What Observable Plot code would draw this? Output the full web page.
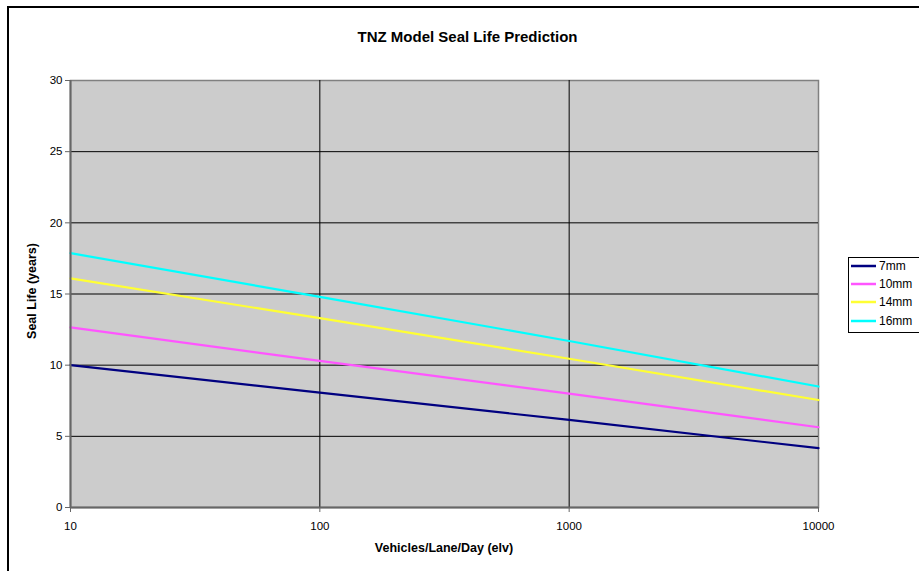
<!DOCTYPE html>
<html>
<head>
<meta charset="utf-8">
<script src="https://cdn.jsdelivr.net/npm/d3@7"></script>
<script src="https://cdn.jsdelivr.net/npm/@observablehq/plot@0.6"></script>
<style>
  html, body { margin: 0; padding: 0; background: #fff; }
  body { font-family: "Liberation Sans", Arial, sans-serif; }
  #wrap { position: relative; width: 919px; height: 571px; overflow: hidden; }
  #border { position: absolute; left: 7px; top: 6px; width: 2000px; height: 2000px;
            border-left: 2px solid #000; border-top: 2px solid #000; }
  #title { position: absolute; left: 0; width: 935px; top: 29px; text-align: center;
           font-weight: bold; font-size: 15px; line-height: 15px; color: #000; }
  #ylabel { position: absolute; left: 32px; top: 291px; transform: translate(-50%, -50%) rotate(-90deg);
            font-weight: bold; font-size: 12.5px; line-height: 13px; white-space: nowrap; }
  #xlabel { position: absolute; left: 444px; top: 548px; transform: translate(-50%, -50%);
            font-weight: bold; font-size: 12.5px; line-height: 13px; white-space: nowrap; }
  #legend { position: absolute; left: 848px; top: 257px; width: 72px; height: 76px;
            border: 1px solid #000; background: #fff; box-sizing: border-box; }
  .item { position: absolute; left: 2px; height: 14px; font-size: 12px; line-height: 14px; display: flex; align-items: center; }
  .item svg { margin-right: 3px; }
  #chart { position: absolute; left: 0; top: 0; }
</style>
</head>
<body>
<div id="wrap">
  <div id="chart"></div>
  <div id="border"></div>
  <div id="title">TNZ Model Seal Life Prediction</div>
  <div id="ylabel">Seal Life (years)</div>
  <div id="xlabel">Vehicles/Lane/Day (elv)</div>
  <div id="legend"></div>
</div>
<script>
// Data
const vehicles = [10, 100, 1000, 10000];
const seriesNames = ["7mm", "10mm", "14mm", "16mm"];
const life7mm  = [10.0, 8.07, 6.15, 4.17];
const life10mm = [12.65, 10.3, 8.0, 5.64];
const life14mm = [16.1, 13.3, 10.45, 7.55];
const life16mm = [17.87, 14.8, 11.7, 8.5];
const seriesColors = ["#000080", "#ff55ff", "#ffff33", "#00ffff"];
const xTicks = [10, 100, 1000, 10000];
const yTicks = [0, 5, 10, 15, 20, 25, 30];
const yGrid = [5, 10, 15, 20, 25];
const xGrid = [100, 1000];

const allSeries = [life7mm, life10mm, life14mm, life16mm];
const rows = [];
seriesNames.forEach((name, i) => {
  vehicles.forEach((v, j) => rows.push({series: name, x: v, y: allSeries[i][j]}));
});

const chart = Plot.plot({
  width: 919,
  height: 571,
  marginLeft: 70,
  marginRight: 101,
  marginTop: 80,
  marginBottom: 64,
  style: { fontFamily: '"Liberation Sans", Arial, sans-serif', fontSize: "11.5px", color: "#000", background: "transparent" },
  x: { type: "log", domain: [10, 10000], ticks: xTicks, tickFormat: d => String(d), label: null },
  y: { domain: [0, 30], ticks: yTicks, label: null },
  color: { domain: seriesNames, range: seriesColors },
  marks: [
    Plot.frame({ fill: "#cccccc", stroke: "#808080", strokeWidth: 1.5 }),
    Plot.ruleY(yGrid, { stroke: "#000", strokeWidth: 1 }),
    Plot.ruleX(xGrid, { stroke: "#000", strokeWidth: 1 }),
    Plot.line(rows, { x: "x", y: "y", z: "series", stroke: "series", strokeWidth: 2.2 }),
    Plot.axisY({ ticks: yTicks, tickSize: 5, tickPadding: 3, stroke: "#666", label: null, fontSize: 11.5 }),
    Plot.axisX({ ticks: xTicks, tickFormat: d => String(d), tickSize: 5, tickPadding: 9, stroke: "#666", label: null, fontSize: 11.5 }),
    Plot.ruleY([0], { stroke: "#666", strokeWidth: 2 }),
    Plot.ruleX([10], { stroke: "#666", strokeWidth: 2 })
  ]
});
document.getElementById("chart").appendChild(chart);

// Legend
const legend = document.getElementById("legend");
const itemTops = [1, 19, 37, 56];
seriesNames.forEach((name, i) => {
  const div = document.createElement("div");
  div.className = "item";
  div.style.top = itemTops[i] + "px";
  div.innerHTML = `<svg width="25" height="4"><line x1="0" x2="25" y1="2" y2="2" stroke="${seriesColors[i]}" stroke-width="2.5"/></svg><span>${name}</span>`;
  legend.appendChild(div);
});
</script>
</body>
</html>
